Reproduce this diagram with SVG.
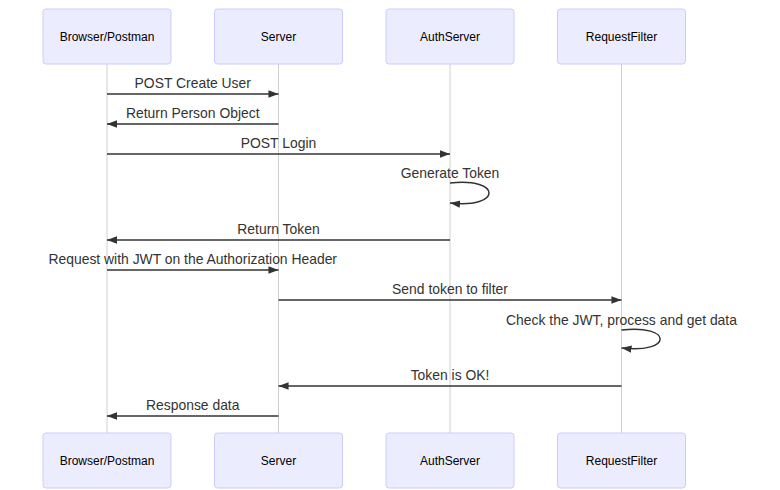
<svg xmlns="http://www.w3.org/2000/svg" width="780" height="490" viewBox="0 0 780 490">
<defs>
<style>
.actor rect{fill:#ECECFF;stroke:#CCCCFF;stroke-width:1}
.actor text{font-family:"Liberation Sans",Arial,sans-serif;font-size:12px;fill:#000;text-anchor:middle;dominant-baseline:central}
.life{stroke:#d0d0d0;stroke-width:1}
.msg{stroke:#333;stroke-width:1.5;fill:none}
.lbl{font-family:"Liberation Sans",Arial,sans-serif;font-size:13.9px;fill:#333;text-anchor:middle}
</style>
<marker id="ah" viewBox="0 0 12 12" refX="11" refY="6" markerWidth="11" markerHeight="11" markerUnits="userSpaceOnUse" orient="auto">
<path d="M0,2 L11,6 L0,10 z" fill="#333"/>
</marker>
</defs>
<rect width="780" height="490" fill="#fff"/>
<g id="lifelines">
<line class="life" x1="107" y1="64" x2="107" y2="433"/>
<line class="life" x1="278.5" y1="64" x2="278.5" y2="433"/>
<line class="life" x1="450" y1="64" x2="450" y2="433"/>
<line class="life" x1="621.5" y1="64" x2="621.5" y2="433"/>
</g>
<g id="actor-browser-top" class="actor"><rect x="43" y="9" width="128" height="55" rx="3"/><text x="107" y="36.5">Browser/Postman</text></g>
<g id="actor-server-top" class="actor"><rect x="214.5" y="9" width="128" height="55" rx="3"/><text x="278.5" y="36.5">Server</text></g>
<g id="actor-auth-top" class="actor"><rect x="386" y="9" width="128" height="55" rx="3"/><text x="450" y="36.5">AuthServer</text></g>
<g id="actor-filter-top" class="actor"><rect x="557.5" y="9" width="128" height="55" rx="3"/><text x="621.5" y="36.5">RequestFilter</text></g>
<g id="actor-browser-bottom" class="actor"><rect x="43" y="433" width="128" height="55" rx="3"/><text x="107" y="460.5">Browser/Postman</text></g>
<g id="actor-server-bottom" class="actor"><rect x="214.5" y="433" width="128" height="55" rx="3"/><text x="278.5" y="460.5">Server</text></g>
<g id="actor-auth-bottom" class="actor"><rect x="386" y="433" width="128" height="55" rx="3"/><text x="450" y="460.5">AuthServer</text></g>
<g id="actor-filter-bottom" class="actor"><rect x="557.5" y="433" width="128" height="55" rx="3"/><text x="621.5" y="460.5">RequestFilter</text></g>
<g id="connectors">
<line class="msg" x1="107" y1="94" x2="278.5" y2="94" marker-end="url(#ah)"/>
<line class="msg" x1="278.5" y1="124" x2="107" y2="124" marker-end="url(#ah)"/>
<line class="msg" x1="107" y1="154" x2="450" y2="154" marker-end="url(#ah)"/>
<path class="msg" d="M450,183 C502,177 502,209 450,203" marker-end="url(#ah)"/>
<line class="msg" x1="450" y1="240" x2="107" y2="240" marker-end="url(#ah)"/>
<line class="msg" x1="107" y1="270" x2="278.5" y2="270" marker-end="url(#ah)"/>
<line class="msg" x1="278.5" y1="300" x2="621.5" y2="300" marker-end="url(#ah)"/>
<path class="msg" d="M621.5,330 C673,324 673,354 621.5,348" marker-end="url(#ah)"/>
<line class="msg" x1="621.5" y1="386" x2="278.5" y2="386" marker-end="url(#ah)"/>
<line class="msg" x1="278.5" y1="416" x2="107" y2="416" marker-end="url(#ah)"/>
</g>
<g id="labels">
<text class="lbl" x="192.75" y="88">POST Create User</text>
<text class="lbl" x="192.75" y="118">Return Person Object</text>
<text class="lbl" x="278.5" y="148">POST Login</text>
<text class="lbl" x="450" y="178">Generate Token</text>
<text class="lbl" x="278.5" y="234">Return Token</text>
<text class="lbl" x="192.75" y="264">Request with JWT on the Authorization Header</text>
<text class="lbl" x="450" y="294">Send token to filter</text>
<text class="lbl" x="621.5" y="325">Check the JWT, process and get data</text>
<text class="lbl" x="450" y="380">Token is OK!</text>
<text class="lbl" x="192.75" y="410">Response data</text>
</g>
</svg>
